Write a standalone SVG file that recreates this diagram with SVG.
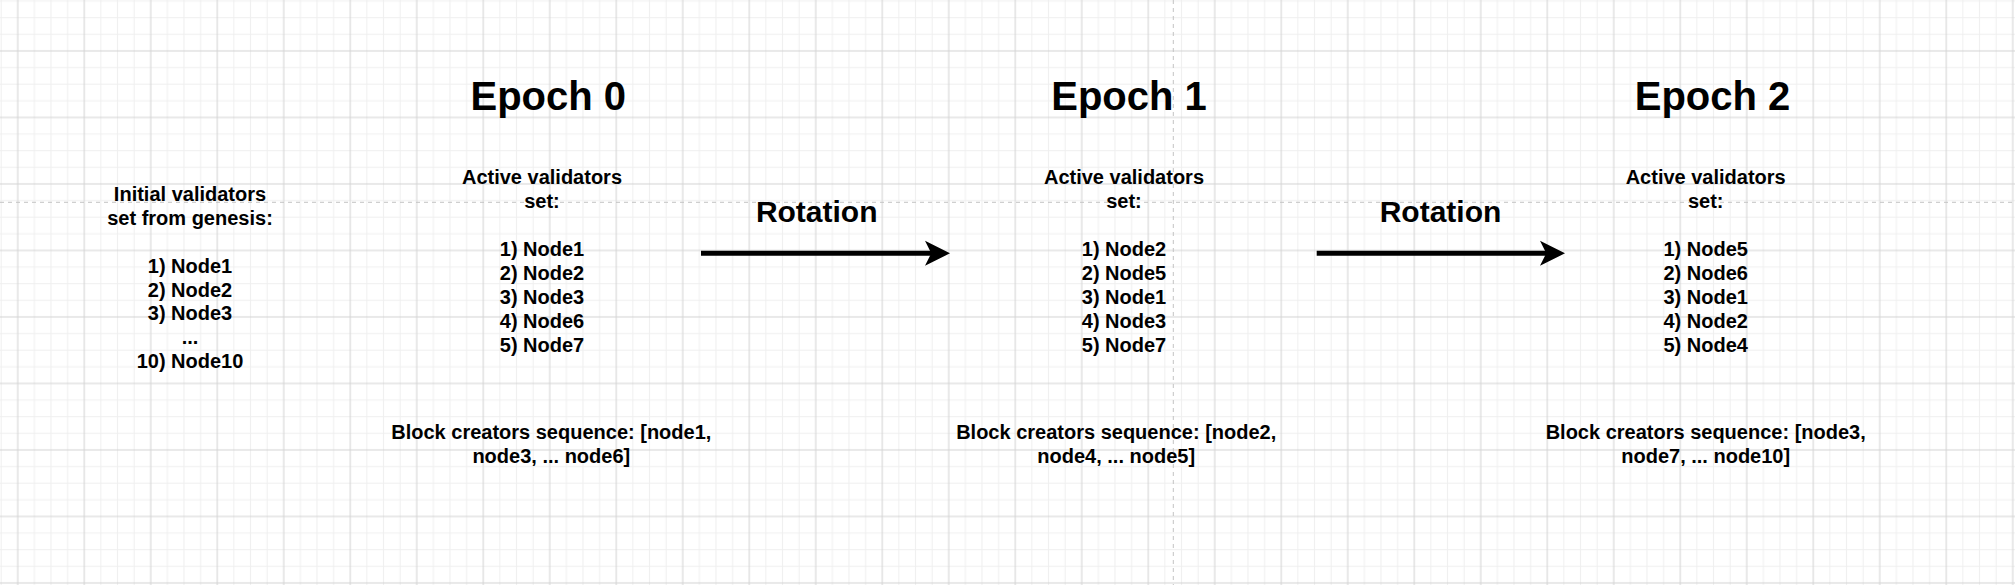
<svg xmlns="http://www.w3.org/2000/svg" width="2015" height="585" viewBox="0 0 2015 585">
<style>
.t{font-family:"Liberation Sans",Arial,Helvetica,sans-serif;font-weight:bold;fill:#000;text-anchor:middle}
.body{font-size:20px}
.title{font-size:40px}
.rot{font-size:30px}
.guide{stroke:#c4c4c4;stroke-width:1;stroke-dasharray:4 4;fill:none}
.edge{stroke:#000;stroke-width:5;fill:none}
.head{fill:#000;stroke:none}
</style>
<defs>
<pattern id="grid" patternUnits="userSpaceOnUse" x="9.75" y="43" width="66.5" height="66.5">
<g stroke="#efefef" stroke-width="1">
<line x1="24.625" y1="0" x2="24.625" y2="66.5"/>
<line x1="41.25" y1="0" x2="41.25" y2="66.5"/>
<line x1="57.875" y1="0" x2="57.875" y2="66.5"/>
<line x1="0" y1="24.625" x2="66.5" y2="24.625"/>
<line x1="0" y1="41.25" x2="66.5" y2="41.25"/>
<line x1="0" y1="57.875" x2="66.5" y2="57.875"/>
</g>
<g stroke="#d3d3d3" stroke-width="1">
<line x1="8" y1="0" x2="8" y2="66.5"/>
<line x1="0" y1="8" x2="66.5" y2="8"/>
</g>
</pattern>
</defs>
<rect x="0" y="0" width="2015" height="585" fill="#fff"/>
<rect x="0" y="0" width="2015" height="585" fill="url(#grid)"/>
<g id="guides">
<line class="guide" x1="0" y1="202.3" x2="2015" y2="202.3"/>
<line class="guide" x1="1173.3" y1="0" x2="1173.3" y2="585"/>
</g>
<g id="connectors">
<g id="edge-rotation-1">
<line class="edge" x1="701" y1="253.3" x2="933" y2="253.3"/>
<polygon class="head" points="950,253.3 925,240.8 931.25,253.3 925,265.8"/>
</g>
<g id="edge-rotation-2">
<line class="edge" x1="1316.7" y1="253.3" x2="1548" y2="253.3"/>
<polygon class="head" points="1565,253.3 1540,240.8 1546.25,253.3 1540,265.8"/>
</g>
</g>
<g id="initial-validators">
<text class="t body" x="190" y="200.7">Initial validators</text>
<text class="t body" x="190" y="224.6">set from genesis:</text>
<text class="t body" x="190" y="272.5">1) Node1</text>
<text class="t body" x="190" y="296.5">2) Node2</text>
<text class="t body" x="190" y="320.4">3) Node3</text>
<text class="t body" x="190" y="344.3">...</text>
<text class="t body" x="190" y="368.3">10) Node10</text>
</g>
<g id="epoch0-title"><text class="t title" x="548.3" y="110">Epoch 0</text></g>
<g id="epoch0-validators">
<text class="t body" x="542" y="184.3">Active validators</text>
<text class="t body" x="542" y="208.2">set:</text>
<text class="t body" x="542" y="256.1">1) Node1</text>
<text class="t body" x="542" y="280.1">2) Node2</text>
<text class="t body" x="542" y="304">3) Node3</text>
<text class="t body" x="542" y="328">4) Node6</text>
<text class="t body" x="542" y="351.9">5) Node7</text>
</g>
<g id="epoch0-creators">
<text class="t body" x="551.3" y="439.3">Block creators sequence: [node1,</text>
<text class="t body" x="551.3" y="463.2">node3, ... node6]</text>
</g>
<g id="rotation-label-1"><text class="t rot" x="816.7" y="221.7">Rotation</text></g>
<g id="epoch1-title"><text class="t title" x="1129" y="110">Epoch 1</text></g>
<g id="epoch1-validators">
<text class="t body" x="1124" y="184.3">Active validators</text>
<text class="t body" x="1124" y="208.2">set:</text>
<text class="t body" x="1124" y="256.1">1) Node2</text>
<text class="t body" x="1124" y="280.1">2) Node5</text>
<text class="t body" x="1124" y="304">3) Node1</text>
<text class="t body" x="1124" y="328">4) Node3</text>
<text class="t body" x="1124" y="351.9">5) Node7</text>
</g>
<g id="epoch1-creators">
<text class="t body" x="1116.2" y="439.3">Block creators sequence: [node2,</text>
<text class="t body" x="1116.2" y="463.2">node4, ... node5]</text>
</g>
<g id="rotation-label-2"><text class="t rot" x="1440.5" y="221.7">Rotation</text></g>
<g id="epoch2-title"><text class="t title" x="1712.5" y="110">Epoch 2</text></g>
<g id="epoch2-validators">
<text class="t body" x="1705.7" y="184.3">Active validators</text>
<text class="t body" x="1705.7" y="208.2">set:</text>
<text class="t body" x="1705.7" y="256.1">1) Node5</text>
<text class="t body" x="1705.7" y="280.1">2) Node6</text>
<text class="t body" x="1705.7" y="304">3) Node1</text>
<text class="t body" x="1705.7" y="328">4) Node2</text>
<text class="t body" x="1705.7" y="351.9">5) Node4</text>
</g>
<g id="epoch2-creators">
<text class="t body" x="1705.7" y="439.3">Block creators sequence: [node3,</text>
<text class="t body" x="1705.7" y="463.2">node7, ... node10]</text>
</g>
</svg>
